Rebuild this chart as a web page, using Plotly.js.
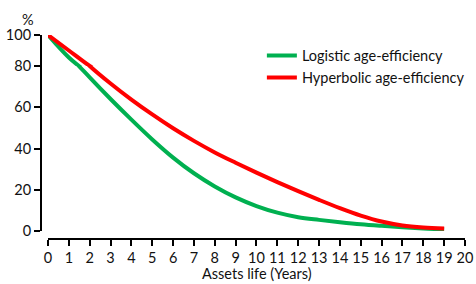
<!DOCTYPE html>
<html>
<head>
<meta charset="utf-8">
<script src="https://cdn.plot.ly/plotly-3.0.1.min.js"></script>
<style>
  html, body { margin: 0; padding: 0; background: #fff; }
  #chart { width: 476px; height: 284px; }
</style>
</head>
<body>
<div id="chart"></div>
<script>
// ---- data ----
const years = [0,1,2,3,4,5,6,7,8,9,10,11,12,13,14,15,16,17,18,19];
const logistic = [100,85.5,74.5,64,54,44.4,35.6,28.0,21.6,16.3,12.1,8.9,6.7,5.4,4.3,3.3,2.5,1.8,1.2,0.8];
const hyperbolic = [100,90,80,71.5,63.7,56.5,49.8,43.7,38.1,33.1,28.3,23.7,19.3,15.1,11.1,7.5,4.6,2.7,1.7,1.2];
const seriesNames = ['Logistic age-efficiency', 'Hyperbolic age-efficiency'];
const xTicks = [0,1,2,3,4,5,6,7,8,9,10,11,12,13,14,15,16,17,18,19,20];
const yTicksLower = [0,20,40,60,80];
const yTicksUpper = [100];

const GREEN = '#00b050';
const RED = '#ff0000';
const FONT = 'Lato, "Open Sans", sans-serif';
const FS = 14.5;

function mk(y, name, color, yax, show) {
  return {
    x: years, y: y, name: name, type: 'scatter', mode: 'lines',
    xaxis: 'x', yaxis: yax, showlegend: show, legendgroup: name,
    line: {color: color, width: 4, shape: 'spline', smoothing: 1},
    hoverinfo: 'skip'
  };
}

const traces = [
  mk(logistic, seriesNames[0], GREEN, 'y', true),
  mk(hyperbolic, seriesNames[1], RED, 'y', true),
  mk(logistic, seriesNames[0], GREEN, 'y2', false),
  mk(hyperbolic, seriesNames[1], RED, 'y2', false)
];

const axCommon = {
  showline: true, linecolor: '#000', linewidth: 2,
  ticks: 'outside', ticklen: 6, tickwidth: 2, tickcolor: '#000',
  showgrid: false, zeroline: false,
  tickfont: {family: FONT, size: FS, color: '#111'},
  fixedrange: true
};

const layout = {
  width: 476, height: 284,
  margin: {l: 30, r: 6, t: 30, b: 40},
  paper_bgcolor: '#fff', plot_bgcolor: '#fff',
  font: {family: FONT, size: FS, color: '#111'},
  showlegend: true,
  legend: {
    x: 0.527, y: 0.955, xanchor: 'left', yanchor: 'top',
    bgcolor: 'rgba(0,0,0,0)', traceorder: 'normal',
    font: {family: FONT, size: FS, color: '#111'},
    itemwidth: 30
  },
  xaxis: Object.assign({}, axCommon, {
    domain: [0.0409, 0.9886], range: [0, 20],
    anchor: 'free', position: 0.0234,
    tickmode: 'array', tickvals: xTicks, ticktext: xTicks.map(String)
  }),
  yaxis: Object.assign({}, axCommon, {
    domain: [0.0607, 0.8318], range: [0, 80],
    anchor: 'free', position: 0.025,
    tickmode: 'array', tickvals: yTicksLower, ticktext: yTicksLower.map(String)
  }),
  yaxis2: Object.assign({}, axCommon, {
    domain: [0.8318, 0.9766], range: [80, 100],
    anchor: 'free', position: 0.025,
    tickmode: 'array', tickvals: yTicksUpper, ticktext: yTicksUpper.map(String)
  }),
  annotations: [
    {text: '%', xref: 'paper', yref: 'paper', x: -0.005, y: 1.05,
     xanchor: 'center', yanchor: 'middle', showarrow: false,
     font: {family: FONT, size: FS, color: '#111'}},
    {text: 'Assets life (Years)', xref: 'paper', yref: 'paper', x: 0.5166, y: -0.14,
     xanchor: 'center', yanchor: 'middle', showarrow: false,
     font: {family: FONT, size: FS, color: '#111'}}
  ]
};

Plotly.newPlot('chart', traces, layout, {displayModeBar: false, staticPlot: true});
</script>
</body>
</html>
